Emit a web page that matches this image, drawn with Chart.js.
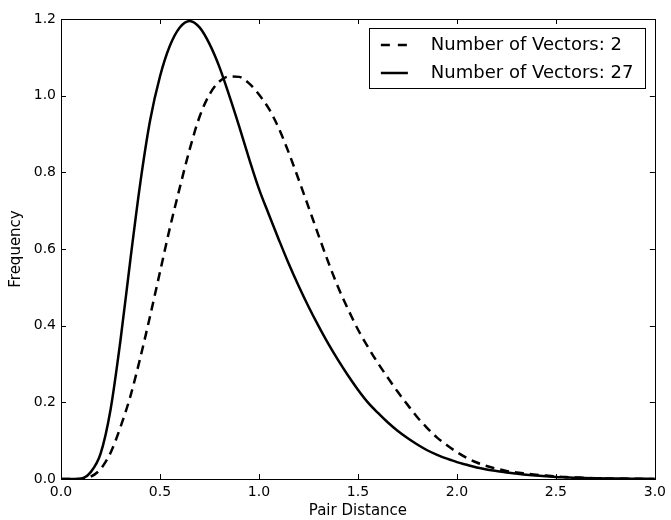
<!DOCTYPE html>
<html>
<head>
<meta charset="utf-8">
<script src="https://cdn.jsdelivr.net/npm/chart.js@4/dist/chart.umd.min.js"></script>
<style>
  html, body { margin: 0; padding: 0; background: #fff; }
  #wrap { width: 671px; height: 520px; position: relative; }
</style>
</head>
<body>
<div id="wrap"><canvas id="c" width="671" height="520"></canvas></div>
<script>
// ---- data ----
const distances = [0.00,0.05,0.10,0.15,0.20,0.25,0.30,0.35,0.40,0.45,0.50,0.55,0.60,0.65,0.70,0.75,0.80,0.85,0.90,0.95,
  1.00,1.05,1.10,1.15,1.20,1.25,1.30,1.35,1.40,1.45,1.50,1.55,1.60,1.65,1.70,1.75,1.80,1.85,1.90,1.95,
  2.00,2.05,2.10,2.15,2.20,2.25,2.30,2.35,2.40,2.45,2.50,2.55,2.60,2.65,2.70,2.75,2.80,2.85,2.90,2.95,3.00];

const freqVectors2 = [0,0,0.001,0.006,0.026,0.068,0.135,0.215,0.315,0.425,0.54,0.655,0.76,0.86,0.945,1.003,1.037,1.05,1.049,1.032,
  1.003,0.966,0.915,0.852,0.782,0.71,0.637,0.566,0.50,0.443,0.39,0.345,0.303,0.265,0.228,0.194,0.161,0.133,0.108,0.088,
  0.07,0.055,0.043,0.034,0.027,0.021,0.017,0.014,0.011,0.009,0.007,0.005,0.004,0.003,0.002,0.0015,0.001,0.0008,0.0005,0.0003,0.0002];

const freqVectors27 = [0,0,0.001,0.018,0.066,0.18,0.36,0.57,0.77,0.935,1.05,1.13,1.178,1.195,1.178,1.135,1.075,1.0,0.92,0.836,
  0.757,0.69,0.625,0.562,0.504,0.45,0.40,0.353,0.31,0.27,0.233,0.20,0.173,0.148,0.126,0.107,0.09,0.075,0.063,0.053,
  0.044,0.037,0.030,0.025,0.021,0.017,0.014,0.011,0.009,0.007,0.005,0.004,0.003,0.0025,0.002,0.0015,0.001,0.001,0.0007,0.0005,0.0003];

const seriesLabels = ['Number of Vectors: 2', 'Number of Vectors: 27'];
const xTickLabels = ['0.0','0.5','1.0','1.5','2.0','2.5','3.0'];
const yTickLabels = ['0.0','0.2','0.4','0.6','0.8','1.0','1.2'];
const xTitle = 'Pair Distance';
const yTitle = 'Frequency';

// ---- chart ----
const FONT = "'DejaVu Sans', sans-serif";

const mplFrame = {
  id: 'mplFrame',
  afterDatasetsDraw(chart) {
    const {ctx, chartArea: a, scales: {x, y}} = chart;
    ctx.save();
    ctx.strokeStyle = '#000';
    ctx.lineWidth = 1;
    // inward ticks on all four sides
    const L = 5;
    ctx.beginPath();
    x.ticks.forEach(t => {
      const px = Math.round(x.getPixelForValue(t.value)) + 0.5;
      ctx.moveTo(px, a.bottom); ctx.lineTo(px, a.bottom - L);
      ctx.moveTo(px, a.top); ctx.lineTo(px, a.top + L);
    });
    y.ticks.forEach(t => {
      const py = Math.round(y.getPixelForValue(t.value)) + 0.5;
      ctx.moveTo(a.left, py); ctx.lineTo(a.left + L, py);
      ctx.moveTo(a.right, py); ctx.lineTo(a.right - L, py);
    });
    ctx.stroke();
    // frame
    ctx.strokeRect(Math.round(a.left) + 0.5, Math.round(a.top) + 0.5,
                   Math.round(a.right - a.left), Math.round(a.bottom - a.top));
    // legend box (upper right)
    const ds = chart.data.datasets;
    const bx = a.right - 286, by = a.top + 9, bw = 276, bh = 60;
    ctx.fillStyle = '#fff';
    ctx.fillRect(bx, by, bw, bh);
    ctx.strokeRect(Math.round(bx) + 0.5, Math.round(by) + 0.5, bw, bh);
    ctx.font = '18px ' + FONT;
    ctx.textBaseline = 'middle';
    ctx.textAlign = 'left';
    ds.forEach((d, i) => {
      const ry = by + 17 + i * 28;
      ctx.save();
      ctx.lineWidth = d.borderWidth;
      ctx.setLineDash(d.borderDash ? [9, 8] : []);
      ctx.beginPath();
      ctx.moveTo(bx + 12, ry); ctx.lineTo(bx + 39, ry);
      ctx.stroke();
      ctx.restore();
      ctx.fillStyle = '#000';
      ctx.fillText(d.label, bx + 62, ry);
    });
    ctx.restore();
  }
};

new Chart(document.getElementById('c'), {
  type: 'line',
  data: {
    datasets: [
      {
        label: seriesLabels[0],
        data: distances.map((d, i) => ({x: d, y: freqVectors2[i]})),
        borderColor: '#000', borderWidth: 2.5, borderDash: [9, 6],
        pointRadius: 0, fill: false, cubicInterpolationMode: 'monotone'
      },
      {
        label: seriesLabels[1],
        data: distances.map((d, i) => ({x: d, y: freqVectors27[i]})),
        borderColor: '#000', borderWidth: 2.5,
        pointRadius: 0, fill: false, cubicInterpolationMode: 'monotone'
      }
    ]
  },
  options: {
    responsive: false,
    animation: false,
    events: [],
    layout: { padding: { top: 19, right: 15, left: 0, bottom: 0 } },
    plugins: { legend: { display: false }, tooltip: { enabled: false } },
    scales: {
      x: {
        type: 'linear', min: 0, max: 3,
        grid: { display: false, drawTicks: false },
        border: { display: false },
        ticks: {
          stepSize: 0.5, padding: 5, color: '#000',
          font: { family: FONT, size: 14 },
          callback: (v, i) => xTickLabels[i]
        },
        title: { display: true, text: xTitle, color: '#000', padding: { top: 2, bottom: 0 },
                 font: { family: FONT, size: 15 } },
        afterFit: s => { s.height = 41; }
      },
      y: {
        type: 'linear', min: 0, max: 1.2,
        grid: { display: false, drawTicks: false },
        border: { display: false },
        ticks: {
          stepSize: 0.2, padding: 5, color: '#000',
          font: { family: FONT, size: 14 },
          callback: (v, i) => yTickLabels[i]
        },
        title: { display: true, text: yTitle, color: '#000', padding: { top: 7, bottom: 0 },
                 font: { family: FONT, size: 15 } },
        afterFit: s => { s.width = 61; }
      }
    }
  },
  plugins: [mplFrame]
});
</script>
</body>
</html>
